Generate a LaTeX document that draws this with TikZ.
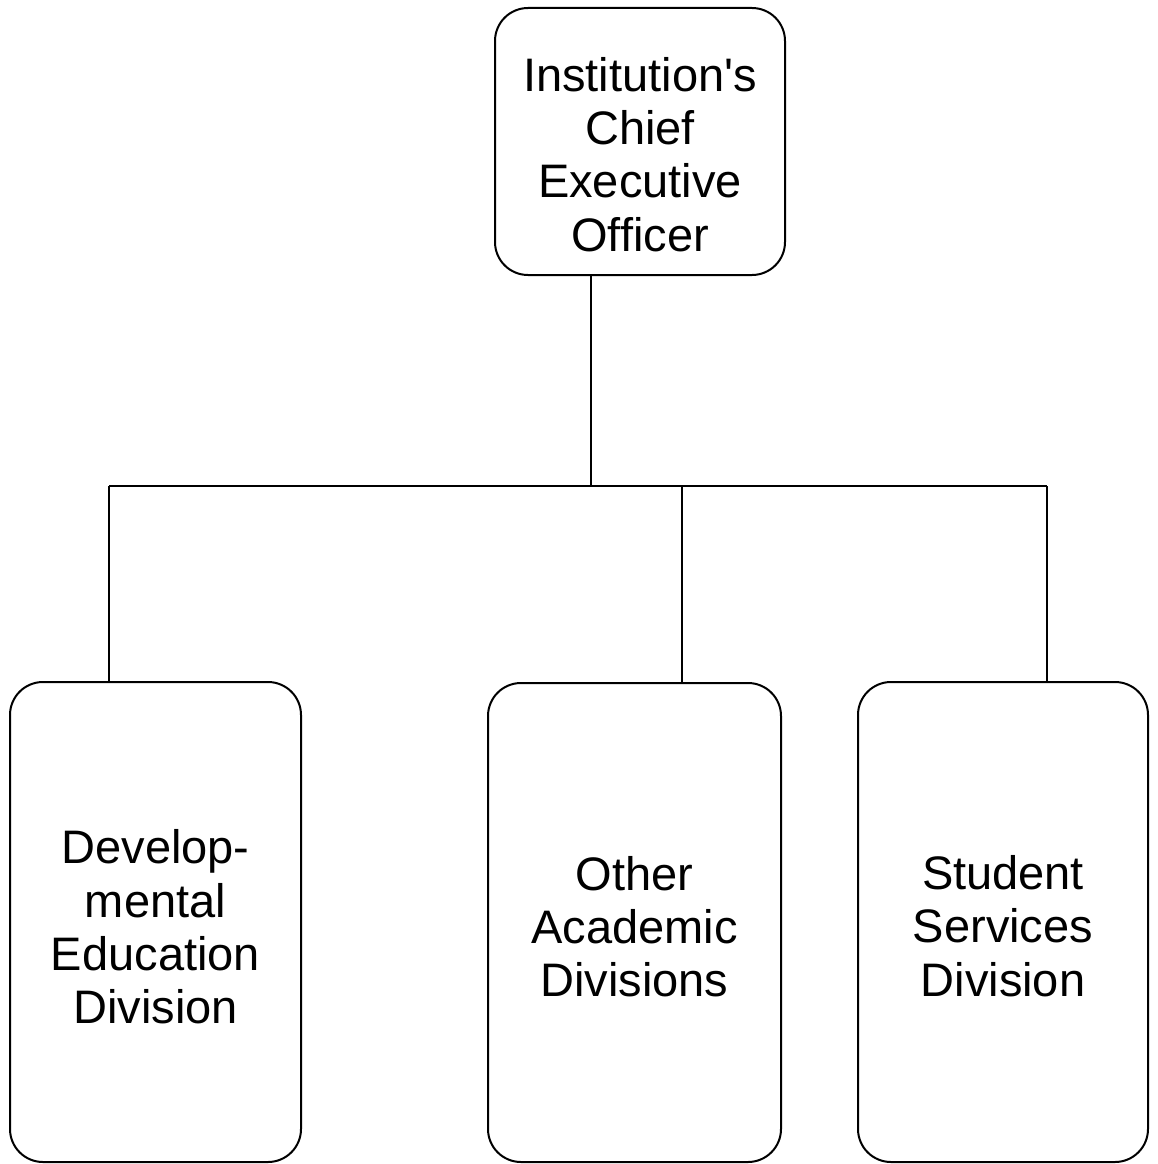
\documentclass[tikz,border=0pt]{standalone}
\usepackage{fontspec}
\setmainfont{Liberation Sans}
\begin{document}
\begin{tikzpicture}[x=1pt,y=-1pt,
  unit/.style={draw, line width=2pt, rounded corners=33pt, inner sep=0pt},
  caption/.style={align=center, inner sep=0pt,
    font=\fontsize{47}{53.3}\selectfont},
  link/.style={line width=2pt}]
\useasboundingbox (0,0) rectangle (1158,1164);

% boxes
\node[unit, minimum width=290pt, minimum height=267pt] (ceo) at (640,141.5) {};
\node[unit, minimum width=291pt, minimum height=480pt] (dev) at (155.5,922) {};
\node[unit, minimum width=293pt, minimum height=479pt] (aca) at (634.5,922.5) {};
\node[unit, minimum width=290pt, minimum height=480pt] (stu) at (1003,922) {};

% box texts
\node[caption] (ceotxt) at ([yshift=-13pt]ceo.center)
  {Institution\textquotesingle s\\Chief\\Executive\\Officer};
\node[caption] (devtxt) at ([yshift=-5pt]dev.center)
  {Develop-\\mental\\Education\\Division};
\node[caption] (acatxt) at ([yshift=-4pt]aca.center)
  {Other\\Academic\\Divisions};
\node[caption] (stutxt) at ([yshift=-4pt]stu.center)
  {Student\\Services\\Division};

% branch points on the bus line
\coordinate (trunk) at (591,486);
\coordinate (busL) at (109,486);
\coordinate (busM) at (682,486);
\coordinate (busR) at (1047,486);

% connectors
\draw[link] (trunk |- ceo.south) -- (trunk);
\draw[link] (busL) -- (busR);
\draw[link] (busL) -- (busL |- dev.north);
\draw[link] (busM) -- (busM |- aca.north);
\draw[link] (busR) -- (busR |- stu.north);
\end{tikzpicture}
\end{document}
